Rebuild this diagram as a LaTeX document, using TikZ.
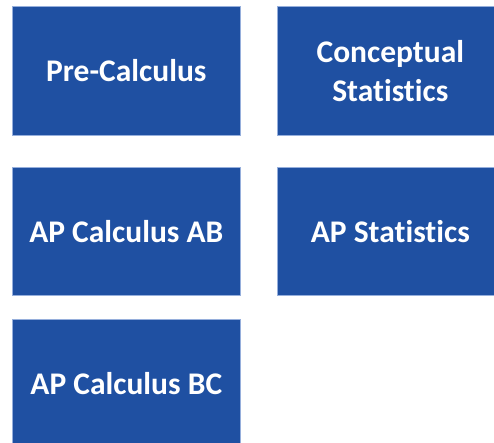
\documentclass[tikz,border=0pt]{standalone}
\usepackage{fontspec}
\setmainfont{Carlito}[Ligatures=NoCommon]
\definecolor{boxblue}{RGB}{31,80,162}
\definecolor{boxedge}{RGB}{150,175,220}
\begin{document}
\begin{tikzpicture}[x=1pt,y=-1pt,
  course/.style={rectangle, fill=boxblue, draw=boxedge, line width=0.6pt,
    inner sep=0pt, text=white, font=\fontsize{31.5}{39}\selectfont\bfseries,
    align=center, anchor=north west}]
\useasboundingbox (0,0) rectangle (494,442);
\node[course, minimum width=228pt, minimum height=129pt] (pre) at (12,6) {Pre-Calculus};
\node[course, minimum width=226pt, minimum height=129pt] (cstat) at (277,6) {Conceptual\\Statistics};
\node[course, minimum width=228pt, minimum height=128pt] (ab) at (12,167) {AP Calculus AB};
\node[course, minimum width=226pt, minimum height=128pt] (stat) at (277,167) {AP Statistics};
\node[course, minimum width=228pt, minimum height=128pt] (bc) at (12,319) {AP Calculus BC};
\end{tikzpicture}
\end{document}
